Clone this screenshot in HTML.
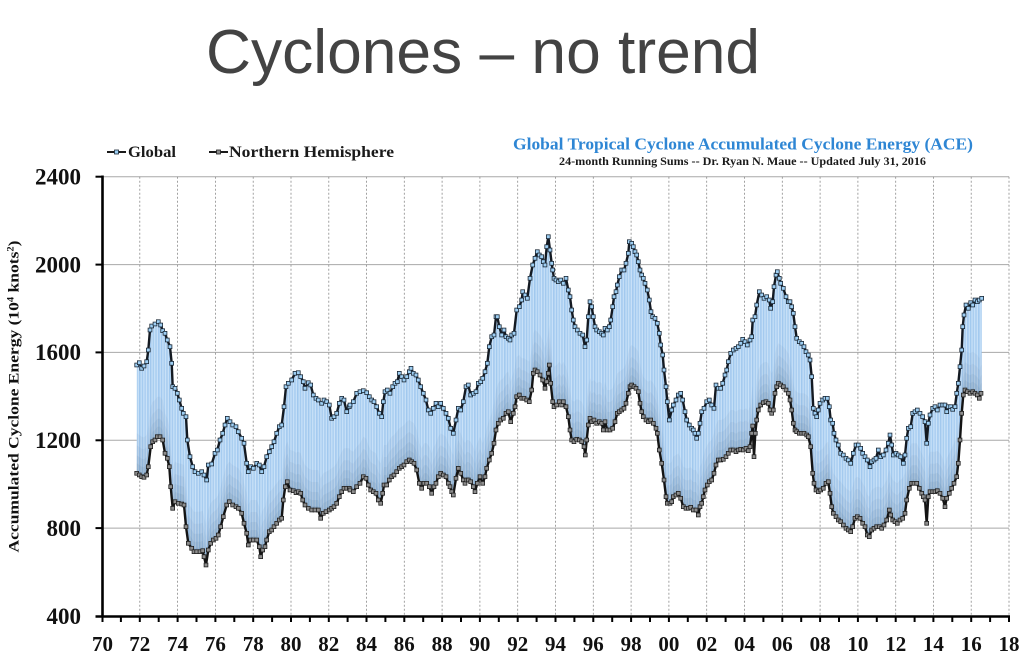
<!DOCTYPE html>
<html>
<head>
<meta charset="utf-8">
<style>
  html,body{margin:0;padding:0;background:#ffffff;}
  body{width:1024px;height:669px;overflow:hidden;}
  svg{display:block;}
</style>
</head>
<body>
<svg width="1024" height="669" viewBox="0 0 1024 669" xmlns="http://www.w3.org/2000/svg" xmlns:xlink="http://www.w3.org/1999/xlink">
  <defs>
    <pattern id="stripes" patternUnits="userSpaceOnUse" x="0" y="0" width="1.58" height="20">
      <rect x="0" y="0" width="0.6" height="20" fill="#5d9fe0" opacity="0.6"/>
    </pattern>
    <marker id="mg" markerUnits="userSpaceOnUse" markerWidth="6" markerHeight="6" refX="3" refY="3">
      <rect x="1.1" y="1.1" width="3.8" height="3.8" fill="#9fd0f5" stroke="#1b2836" stroke-width="0.8"/>
    </marker>
    <marker id="mn" markerUnits="userSpaceOnUse" markerWidth="6" markerHeight="6" refX="3" refY="3">
      <rect x="1.1" y="1.1" width="3.8" height="3.8" fill="#8e8e8e" stroke="#1f1f1f" stroke-width="0.8"/>
    </marker>
    <polyline id="gl" points="136.7,365 139.3,362.7 141.7,368.3 144,366 146.7,361.7 148.3,350 150,330 151.7,326 155,324 158.3,321.7 160.7,325 162.7,330.7 165,333.3 167.3,340 170,346.7 171.7,363.3 172.7,386.7 175,388.3 177.3,393.3 179.3,400 181.7,408.3 183.3,413.3 186,416.7 187.3,440 190,456.7 192.7,466.7 195,471.7 198.3,473.3 201.7,471.7 204,475 206.7,480 208.3,465 211.7,464 215,453.3 217.3,450 220,440 222.7,433.3 225,425 227.3,418.3 230,421.7 232.7,425 236,426.7 238.3,431.7 241.7,438.3 244,443.3 246.7,463.3 248.3,471.7 250.7,466.7 253.3,468.3 256.7,463.3 259.3,465 261.7,471.7 264,466.7 266.7,456.7 269.3,451.7 271.7,446.7 274,441.7 276.7,433.3 279.3,426.7 281.7,425 284,406.7 286,386.7 288.3,383.3 291.7,380 295,373.3 298.3,372.7 300.7,376.7 303.3,381.7 305,388.3 308.3,382.7 310.7,385 313.3,395 316,398.3 318.3,400 321.7,403.3 324,400 326.7,401.7 329.3,405 331.7,418.3 334,416.7 336.7,413.3 339.3,403.3 341.7,398.3 344,400 346.7,411.7 349.3,406.7 350,405 353.3,401.7 356.7,393.3 360,391.7 363.3,390.7 366.7,392.7 369.3,396.7 371.7,400 374,401.7 376.7,406.7 379.3,413.3 381.7,416.7 383.3,401.7 385,391.7 387.3,390 390,393.3 392.7,386.7 395,383.3 397.3,381.7 399.3,373.3 401.7,376.7 404,380 406.7,376.7 409.3,371.7 411,368.3 413.3,373.3 416,375 418.3,380 420.7,386.7 423.3,393.3 426,400 428.3,410 430.7,413.3 433.3,408.3 436,403.3 438.3,406.7 440.7,403.3 443.3,408.3 446,413.3 448.3,418.3 450.7,428.3 453.3,433.3 456,420 458.3,408.3 460.7,410 463.3,401.7 466,386.7 468.3,385 470.7,395 473.3,393.3 476,391.7 478.3,383.3 480.7,381.7 482.7,378.3 485,371.7 487.3,363.3 489.3,346.7 491.7,336.7 494,335 496,316.7 497.3,316.7 499.3,326.7 501.7,335 504,330 506,336.7 508.3,338.3 510,340 511.7,335 514,333.3 516.7,310 519.3,306.7 521.7,300 522.7,291.7 525,295 527.3,298.3 530,278.3 532.7,265 535,258.3 537.3,251.7 539.3,255 541.7,256.7 543.3,261.7 545,265 546.7,246.7 548.3,236.7 550,250 551.7,263.3 552.7,270 554,278.3 556,280 558.3,281.7 560.7,280 563.3,283.3 566,278.3 568.3,290 570,296.7 571.7,310 573.3,320 575,326.7 577.3,330 580,333.3 582.7,335 585,346.7 586.7,340 588.3,316.7 590,301.7 591.7,306.7 593.3,316.7 595,326.7 596.7,330 599.3,331.7 601.7,333.3 603.3,335 605,328.3 607.3,330 609.3,326.7 610.7,320 612.7,306.7 614,296.7 616,291.7 617.3,285 619.3,276.7 621.7,270 624,270 626,263.3 628.3,253.3 629.3,241.7 631.7,243.3 633.3,246.7 635,251.7 636.7,255 638.3,261.7 640,270 641.7,275 643.3,278.3 645,283.3 647.3,290 649.3,300 651,311.7 652.7,316.7 655,318.3 657.3,323.3 659.3,333.3 660.7,345 662.7,355 664,370 666,386.7 667.3,401.7 669.3,420 671.7,410 673.3,405 676,400 678.3,395 680.7,393.3 682.7,400 685,411.7 686.7,420 689.3,425 691.7,428.3 693.3,430 695,433.3 696.7,438.3 698.3,433.3 700,423.3 701.7,411.7 704,408.3 706.7,401.7 709.3,400 711.7,405 714,408.3 716,385 718.3,388.3 720.7,388.3 722.7,383.3 725,375 726.7,370 728.3,361.7 730.7,353.3 733.3,350 736,348.3 738.3,346.7 740.7,343.3 742.7,339.3 745,341.7 747.3,345 750,340 751.7,336.7 752.7,320 755,316.7 756.7,305 759.3,291.7 761.7,295 764,298.3 766.7,296.7 769.3,300 770.7,308.3 772.7,301.7 774,286.7 776,275 777.3,271.7 779.3,278.3 780.7,283.3 783.3,288.3 786,296.7 788.3,301.7 790,301.7 791.7,306.7 793.3,313.3 795,326.7 796.7,338.3 799.3,341.7 801.7,343.3 804,346.7 806,351.7 808.3,355 810,360 811.7,376.7 813.3,408.3 815,413.3 816.7,416.7 818.3,410 820,403.3 822.7,400 825,398.3 827.3,398.3 829.3,406.7 830.7,420 832.7,423.3 834,433.3 836,440 838.3,445 840.7,453.3 843.3,455 846,458.3 848.3,460 850.7,463.3 853.3,453.3 856,445 858.3,445 860.7,448.3 862.7,453.3 865,456.7 867.3,460 870,466.7 871.7,461.7 874,460 876,458.3 878.3,450 880.7,456.7 883.3,455 886,450 888.3,443.3 890,435 891.7,445 893.3,455 896,453.3 898.3,455 900.7,456.7 903.3,463.3 905,455 906.7,438.3 908.3,428.3 910.7,426.7 912.7,413.3 915,411.7 917.3,410 920,413.3 922.7,416.7 925,421.7 926.7,443.3 928.3,423.3 930,415 932.7,408.3 935,406.7 937.3,410 940,405 942.7,405 945,405 946.7,411.7 948.3,406.7 950.7,406.7 952.7,409.3 955,406.7 956.7,393.3 958.3,383.3 960,366.7 961.7,350 962.7,326.7 964,315 966,305 968.3,308.3 970.7,302.7 972.7,305 975,300 977.3,301.7 979.3,300 981.7,298.3"/>
    <polyline id="nh" points="136.7,473.3 139.3,475 141.7,476.7 144,477.3 146.7,475 148.3,466.7 150.7,446.7 152.7,441.7 155,440 157.3,436.7 160,436.7 162.7,440 165,453.3 167.3,458.3 169.3,466.7 170.7,486.7 172.7,508.3 175,501.7 178.3,503.3 181.7,504 184,505 186,526.7 188.3,543.3 191.7,548.3 194,551.7 196.7,551.7 200,551.7 202.7,550.7 204,556.7 206,565 208.3,550 210.7,543.3 213.3,540 216,538.3 218.3,535 220.7,526.7 223.3,516.7 226.7,505 229.3,501.7 232.7,505 236,506.7 238.3,508.3 241.7,513.3 244,523.3 246.7,533.3 248.3,545 250.7,540 253.3,540 256.7,540 259.3,546.7 260.7,556.7 262.7,550 265,546.7 266.7,540 269.3,531.7 271.7,530 274,526.7 276.7,523.3 279.3,520 281.7,518.3 283.3,500 285.3,486.7 287.3,481.7 290,490 293.3,490.7 296,492.7 298.3,491.7 300.7,493.3 302.7,500 305,505 308.3,508.3 311.7,510 315,510 318.3,510 320.7,518.3 323.3,513.3 326,511.7 329.3,510 331.7,508.3 334,506.7 336.7,503.3 339.3,496.7 341.7,491.7 344,488.3 346.7,488.3 349.3,488.3 350,490 353.3,491.7 356.7,486.7 360,483.3 363.3,476.7 366,478.3 368.3,485 370.7,490 373.3,491.7 376,493.3 378.3,500 380.7,503.3 382.7,493.3 384,485 386.7,485 389.3,480 391.7,476.7 394,475 396.7,471.7 399.3,468.3 401.7,466.7 404,465 406.7,461.7 409.3,460 411.7,461.7 414,463.3 416.7,470 419.3,483.3 421.7,488.3 424,483.3 426.7,483.3 429.3,486.7 431.7,493.3 434,486.7 436,483.3 438.3,476.7 440.7,473.3 443.3,475 446,476.7 448.3,483.3 450,486.7 451.7,491.7 453.3,495 456,478.3 458.3,468.3 460.7,473.3 463.3,480 465,483.3 466.7,480 468.3,480 470.7,481.7 473.3,486.7 475,491.7 477.3,483.3 480,476.7 482.7,483.3 485,476.7 486.7,468.3 489.3,460 491.7,453.3 494,443.3 496,430 498.3,423.3 500.7,420 503.3,418.3 506,413.3 508.3,411.7 510.7,421.7 513.3,413.3 515,406.7 516.7,396.7 519.3,395 521.7,398.3 524,398.3 526.7,400 529.3,401.7 531.7,390 533.3,373.3 535,370 537.3,371.7 540,375 542.7,380 545,388.3 546.7,381.7 548.3,373.3 549.3,365 550.7,383.3 552.7,401.7 554,406.7 556.7,405 559.3,401.7 561.7,405 563.3,401.7 566,406.7 568.3,416.7 570,430 571.7,440 574,441.7 576.7,439.3 579.3,440 581.7,441.7 584,446.7 585.3,455 586.7,440 588.3,425 590,418.3 591.7,421.7 594,420 596.7,423.3 599.3,421.7 601.7,423.3 603.3,430 605,421.7 607.3,430 610,430 612.7,428.3 615,421.7 617.3,413.3 619.3,411.7 621.7,410 624,408.3 626,403.3 628.3,393.3 630,386.7 631.7,385 634,386.7 636,388.3 638.3,391.7 640,403.3 641.7,411.7 643.3,416.7 646,420 648.3,421.7 650.7,420 653.3,423.3 656,428.3 657.3,433.3 659.3,450 661.7,463.3 664,480 666,496.7 667.3,503.3 670,503.3 671.7,501.7 673.3,496.7 676,495 678.3,493.3 680.7,498.3 683.3,506.7 686,508.3 688.3,508.3 690.7,507.3 693.3,510 696,510 698.3,515 700,506.7 701.7,503.3 703.3,496.7 705,490 707.3,485 709.3,481.7 711.7,480 714,473.3 716,465 718.3,460 720.7,460 723.3,459.3 726,456.7 728.3,453.3 730.7,450 733.3,450 736,451.7 738.3,450 740.7,449.3 743.3,450 746,448.3 748.3,450.7 750,446.7 751.7,433.3 752.7,426 754,456.7 755.3,433.3 756.7,420 758.3,410 760.7,405 763.3,402.7 766,401.7 768.3,403.3 770,410 771.7,413.3 773.3,410 775,393.3 776.7,386.7 778.3,383.3 780.7,385 783.3,386.7 786,390 788.3,393.3 790,400 791.7,410 793.3,423.3 795,430 796.7,431.7 799.3,433.3 801.7,433.3 804,433.3 806.7,435 808.3,436.7 810.7,446.7 812.7,473.3 814,483.3 816,490 818.3,491.7 820.7,490 823.3,488.3 826,483.3 828.3,481.7 830,493.3 831.7,506.7 833.3,513.3 836,516.7 838.3,520 840.7,521.7 843.3,525 846,528.3 848.3,530 850.7,531.7 852.7,526.7 855,518.3 857.3,516.7 860,518.3 862.7,523.3 865,526.7 867.3,535 869.3,536.7 871.7,530 874,528.3 876.7,526.7 879.3,526.7 881.7,528.3 884,525 886.7,520 889.3,510 890.7,515 892.7,520 895,521.7 897.3,523.3 900,520 902.7,518.3 905,513.3 906.7,500 909.3,488.3 911.7,483.3 914,483.3 916.7,483.3 919.3,488.3 921.7,493.3 923.3,496.7 925,500 926.7,523.3 928.3,496.7 930,491.7 932.7,491.7 935,491.7 937.3,490.7 940,493.3 942.7,498.3 945,506.7 946.7,498.3 949.3,493.3 951.7,488.3 954,483.3 956.7,476.7 958.3,463.3 960,440 961.7,413.3 963.3,395 965,390 967.3,391.7 970,393.3 972.7,391.7 975,393.3 977.3,395 979.3,398.3 981,393.3"/>
    <polygon id="glA" points="136.7,365 139.3,362.7 141.7,368.3 144,366 146.7,361.7 148.3,350 150,330 151.7,326 155,324 158.3,321.7 160.7,325 162.7,330.7 165,333.3 167.3,340 170,346.7 171.7,363.3 172.7,386.7 175,388.3 177.3,393.3 179.3,400 181.7,408.3 183.3,413.3 186,416.7 187.3,440 190,456.7 192.7,466.7 195,471.7 198.3,473.3 201.7,471.7 204,475 206.7,480 208.3,465 211.7,464 215,453.3 217.3,450 220,440 222.7,433.3 225,425 227.3,418.3 230,421.7 232.7,425 236,426.7 238.3,431.7 241.7,438.3 244,443.3 246.7,463.3 248.3,471.7 250.7,466.7 253.3,468.3 256.7,463.3 259.3,465 261.7,471.7 264,466.7 266.7,456.7 269.3,451.7 271.7,446.7 274,441.7 276.7,433.3 279.3,426.7 281.7,425 284,406.7 286,386.7 288.3,383.3 291.7,380 295,373.3 298.3,372.7 300.7,376.7 303.3,381.7 305,388.3 308.3,382.7 310.7,385 313.3,395 316,398.3 318.3,400 321.7,403.3 324,400 326.7,401.7 329.3,405 331.7,418.3 334,416.7 336.7,413.3 339.3,403.3 341.7,398.3 344,400 346.7,411.7 349.3,406.7 350,405 353.3,401.7 356.7,393.3 360,391.7 363.3,390.7 366.7,392.7 369.3,396.7 371.7,400 374,401.7 376.7,406.7 379.3,413.3 381.7,416.7 383.3,401.7 385,391.7 387.3,390 390,393.3 392.7,386.7 395,383.3 397.3,381.7 399.3,373.3 401.7,376.7 404,380 406.7,376.7 409.3,371.7 411,368.3 413.3,373.3 416,375 418.3,380 420.7,386.7 423.3,393.3 426,400 428.3,410 430.7,413.3 433.3,408.3 436,403.3 438.3,406.7 440.7,403.3 443.3,408.3 446,413.3 448.3,418.3 450.7,428.3 453.3,433.3 456,420 458.3,408.3 460.7,410 463.3,401.7 466,386.7 468.3,385 470.7,395 473.3,393.3 476,391.7 478.3,383.3 480.7,381.7 482.7,378.3 485,371.7 487.3,363.3 489.3,346.7 491.7,336.7 494,335 496,316.7 497.3,316.7 499.3,326.7 501.7,335 504,330 506,336.7 508.3,338.3 510,340 511.7,335 514,333.3 516.7,310 519.3,306.7 521.7,300 522.7,291.7 525,295 527.3,298.3 530,278.3 532.7,265 535,258.3 537.3,251.7 539.3,255 541.7,256.7 543.3,261.7 545,265 546.7,246.7 548.3,236.7 550,250 551.7,263.3 552.7,270 554,278.3 556,280 558.3,281.7 560.7,280 563.3,283.3 566,278.3 568.3,290 570,296.7 571.7,310 573.3,320 575,326.7 577.3,330 580,333.3 582.7,335 585,346.7 586.7,340 588.3,316.7 590,301.7 591.7,306.7 593.3,316.7 595,326.7 596.7,330 599.3,331.7 601.7,333.3 603.3,335 605,328.3 607.3,330 609.3,326.7 610.7,320 612.7,306.7 614,296.7 616,291.7 617.3,285 619.3,276.7 621.7,270 624,270 626,263.3 628.3,253.3 629.3,241.7 631.7,243.3 633.3,246.7 635,251.7 636.7,255 638.3,261.7 640,270 641.7,275 643.3,278.3 645,283.3 647.3,290 649.3,300 651,311.7 652.7,316.7 655,318.3 657.3,323.3 659.3,333.3 660.7,345 662.7,355 664,370 666,386.7 667.3,401.7 669.3,420 671.7,410 673.3,405 676,400 678.3,395 680.7,393.3 682.7,400 685,411.7 686.7,420 689.3,425 691.7,428.3 693.3,430 695,433.3 696.7,438.3 698.3,433.3 700,423.3 701.7,411.7 704,408.3 706.7,401.7 709.3,400 711.7,405 714,408.3 716,385 718.3,388.3 720.7,388.3 722.7,383.3 725,375 726.7,370 728.3,361.7 730.7,353.3 733.3,350 736,348.3 738.3,346.7 740.7,343.3 742.7,339.3 745,341.7 747.3,345 750,340 751.7,336.7 752.7,320 755,316.7 756.7,305 759.3,291.7 761.7,295 764,298.3 766.7,296.7 769.3,300 770.7,308.3 772.7,301.7 774,286.7 776,275 777.3,271.7 779.3,278.3 780.7,283.3 783.3,288.3 786,296.7 788.3,301.7 790,301.7 791.7,306.7 793.3,313.3 795,326.7 796.7,338.3 799.3,341.7 801.7,343.3 804,346.7 806,351.7 808.3,355 810,360 811.7,376.7 813.3,408.3 815,413.3 816.7,416.7 818.3,410 820,403.3 822.7,400 825,398.3 827.3,398.3 829.3,406.7 830.7,420 832.7,423.3 834,433.3 836,440 838.3,445 840.7,453.3 843.3,455 846,458.3 848.3,460 850.7,463.3 853.3,453.3 856,445 858.3,445 860.7,448.3 862.7,453.3 865,456.7 867.3,460 870,466.7 871.7,461.7 874,460 876,458.3 878.3,450 880.7,456.7 883.3,455 886,450 888.3,443.3 890,435 891.7,445 893.3,455 896,453.3 898.3,455 900.7,456.7 903.3,463.3 905,455 906.7,438.3 908.3,428.3 910.7,426.7 912.7,413.3 915,411.7 917.3,410 920,413.3 922.7,416.7 925,421.7 926.7,443.3 928.3,423.3 930,415 932.7,408.3 935,406.7 937.3,410 940,405 942.7,405 945,405 946.7,411.7 948.3,406.7 950.7,406.7 952.7,409.3 955,406.7 956.7,393.3 958.3,383.3 960,366.7 961.7,350 962.7,326.7 964,315 966,305 968.3,308.3 970.7,302.7 972.7,305 975,300 977.3,301.7 979.3,300 981.7,298.3 981.7,640 136.7,640"/>
    <polygon id="nhA" points="130,473.3 136.7,473.3 139.3,475 141.7,476.7 144,477.3 146.7,475 148.3,466.7 150.7,446.7 152.7,441.7 155,440 157.3,436.7 160,436.7 162.7,440 165,453.3 167.3,458.3 169.3,466.7 170.7,486.7 172.7,508.3 175,501.7 178.3,503.3 181.7,504 184,505 186,526.7 188.3,543.3 191.7,548.3 194,551.7 196.7,551.7 200,551.7 202.7,550.7 204,556.7 206,565 208.3,550 210.7,543.3 213.3,540 216,538.3 218.3,535 220.7,526.7 223.3,516.7 226.7,505 229.3,501.7 232.7,505 236,506.7 238.3,508.3 241.7,513.3 244,523.3 246.7,533.3 248.3,545 250.7,540 253.3,540 256.7,540 259.3,546.7 260.7,556.7 262.7,550 265,546.7 266.7,540 269.3,531.7 271.7,530 274,526.7 276.7,523.3 279.3,520 281.7,518.3 283.3,500 285.3,486.7 287.3,481.7 290,490 293.3,490.7 296,492.7 298.3,491.7 300.7,493.3 302.7,500 305,505 308.3,508.3 311.7,510 315,510 318.3,510 320.7,518.3 323.3,513.3 326,511.7 329.3,510 331.7,508.3 334,506.7 336.7,503.3 339.3,496.7 341.7,491.7 344,488.3 346.7,488.3 349.3,488.3 350,490 353.3,491.7 356.7,486.7 360,483.3 363.3,476.7 366,478.3 368.3,485 370.7,490 373.3,491.7 376,493.3 378.3,500 380.7,503.3 382.7,493.3 384,485 386.7,485 389.3,480 391.7,476.7 394,475 396.7,471.7 399.3,468.3 401.7,466.7 404,465 406.7,461.7 409.3,460 411.7,461.7 414,463.3 416.7,470 419.3,483.3 421.7,488.3 424,483.3 426.7,483.3 429.3,486.7 431.7,493.3 434,486.7 436,483.3 438.3,476.7 440.7,473.3 443.3,475 446,476.7 448.3,483.3 450,486.7 451.7,491.7 453.3,495 456,478.3 458.3,468.3 460.7,473.3 463.3,480 465,483.3 466.7,480 468.3,480 470.7,481.7 473.3,486.7 475,491.7 477.3,483.3 480,476.7 482.7,483.3 485,476.7 486.7,468.3 489.3,460 491.7,453.3 494,443.3 496,430 498.3,423.3 500.7,420 503.3,418.3 506,413.3 508.3,411.7 510.7,421.7 513.3,413.3 515,406.7 516.7,396.7 519.3,395 521.7,398.3 524,398.3 526.7,400 529.3,401.7 531.7,390 533.3,373.3 535,370 537.3,371.7 540,375 542.7,380 545,388.3 546.7,381.7 548.3,373.3 549.3,365 550.7,383.3 552.7,401.7 554,406.7 556.7,405 559.3,401.7 561.7,405 563.3,401.7 566,406.7 568.3,416.7 570,430 571.7,440 574,441.7 576.7,439.3 579.3,440 581.7,441.7 584,446.7 585.3,455 586.7,440 588.3,425 590,418.3 591.7,421.7 594,420 596.7,423.3 599.3,421.7 601.7,423.3 603.3,430 605,421.7 607.3,430 610,430 612.7,428.3 615,421.7 617.3,413.3 619.3,411.7 621.7,410 624,408.3 626,403.3 628.3,393.3 630,386.7 631.7,385 634,386.7 636,388.3 638.3,391.7 640,403.3 641.7,411.7 643.3,416.7 646,420 648.3,421.7 650.7,420 653.3,423.3 656,428.3 657.3,433.3 659.3,450 661.7,463.3 664,480 666,496.7 667.3,503.3 670,503.3 671.7,501.7 673.3,496.7 676,495 678.3,493.3 680.7,498.3 683.3,506.7 686,508.3 688.3,508.3 690.7,507.3 693.3,510 696,510 698.3,515 700,506.7 701.7,503.3 703.3,496.7 705,490 707.3,485 709.3,481.7 711.7,480 714,473.3 716,465 718.3,460 720.7,460 723.3,459.3 726,456.7 728.3,453.3 730.7,450 733.3,450 736,451.7 738.3,450 740.7,449.3 743.3,450 746,448.3 748.3,450.7 750,446.7 751.7,433.3 752.7,426 754,456.7 755.3,433.3 756.7,420 758.3,410 760.7,405 763.3,402.7 766,401.7 768.3,403.3 770,410 771.7,413.3 773.3,410 775,393.3 776.7,386.7 778.3,383.3 780.7,385 783.3,386.7 786,390 788.3,393.3 790,400 791.7,410 793.3,423.3 795,430 796.7,431.7 799.3,433.3 801.7,433.3 804,433.3 806.7,435 808.3,436.7 810.7,446.7 812.7,473.3 814,483.3 816,490 818.3,491.7 820.7,490 823.3,488.3 826,483.3 828.3,481.7 830,493.3 831.7,506.7 833.3,513.3 836,516.7 838.3,520 840.7,521.7 843.3,525 846,528.3 848.3,530 850.7,531.7 852.7,526.7 855,518.3 857.3,516.7 860,518.3 862.7,523.3 865,526.7 867.3,535 869.3,536.7 871.7,530 874,528.3 876.7,526.7 879.3,526.7 881.7,528.3 884,525 886.7,520 889.3,510 890.7,515 892.7,520 895,521.7 897.3,523.3 900,520 902.7,518.3 905,513.3 906.7,500 909.3,488.3 911.7,483.3 914,483.3 916.7,483.3 919.3,488.3 921.7,493.3 923.3,496.7 925,500 926.7,523.3 928.3,496.7 930,491.7 932.7,491.7 935,491.7 937.3,490.7 940,493.3 942.7,498.3 945,506.7 946.7,498.3 949.3,493.3 951.7,488.3 954,483.3 956.7,476.7 958.3,463.3 960,440 961.7,413.3 963.3,395 965,390 967.3,391.7 970,393.3 972.7,391.7 975,393.3 977.3,395 979.3,398.3 981,393.3 990,393.3 990,640 130,640"/>
    <mask id="band" maskUnits="userSpaceOnUse" x="0" y="0" width="1024" height="669">
      <rect x="0" y="0" width="1024" height="669" fill="black"/>
      <use href="#glA" xlink:href="#glA" fill="white"/>
      <use href="#nhA" xlink:href="#nhA" fill="black"/>
    </mask>
  </defs>

  <!-- Main slide title -->
  <text x="206" y="73" font-family="'Liberation Sans', Arial, sans-serif" font-size="62" fill="#434343" textLength="554" lengthAdjust="spacingAndGlyphs">Cyclones – no trend</text>

  <!-- Chart title -->
  <text x="513" y="149.5" font-family="'Liberation Serif', serif" font-weight="bold" font-size="17" fill="#2e86d4" textLength="460" lengthAdjust="spacingAndGlyphs">Global Tropical Cyclone Accumulated Cyclone Energy (ACE)</text>
  <text x="559" y="165" font-family="'Liberation Serif', serif" font-weight="bold" font-size="12" fill="#1a1a1a" textLength="367" lengthAdjust="spacingAndGlyphs">24-month Running Sums -- Dr. Ryan N. Maue -- Updated July 31, 2016</text>

  <!-- Legend -->
  <line x1="107" y1="152" x2="126" y2="152" stroke="#1a1a1a" stroke-width="2"/>
  <rect x="114.5" y="150" width="4" height="4" fill="#9fd0f5" stroke="#1b2836" stroke-width="0.8"/>
  <text x="128" y="157" font-family="'Liberation Serif', serif" font-weight="bold" font-size="16" fill="#1a1a1a" textLength="48" lengthAdjust="spacingAndGlyphs">Global</text>
  <line x1="209" y1="152" x2="228" y2="152" stroke="#1a1a1a" stroke-width="2"/>
  <rect x="216.5" y="150" width="4" height="4" fill="#8e8e8e" stroke="#1f1f1f" stroke-width="0.8"/>
  <text x="229" y="157" font-family="'Liberation Serif', serif" font-weight="bold" font-size="16" fill="#1a1a1a" textLength="165" lengthAdjust="spacingAndGlyphs">Northern Hemisphere</text>

  <!-- Horizontal gridlines -->
  <g stroke="#a8a8a8" stroke-width="1">
    <line x1="102" y1="176.7" x2="1009" y2="176.7"/>
    <line x1="102" y1="264.6" x2="1009" y2="264.6"/>
    <line x1="102" y1="352.4" x2="1009" y2="352.4"/>
    <line x1="102" y1="440.3" x2="1009" y2="440.3"/>
    <line x1="102" y1="528.1" x2="1009" y2="528.1"/>
  </g>
  <!-- Vertical dashed gridlines (every 2 years) -->
  <g stroke="#8a8a8a" stroke-width="0.8" stroke-dasharray="2,2">
    <line x1="139.8" y1="176.7" x2="139.8" y2="616"/>
    <line x1="177.6" y1="176.7" x2="177.6" y2="616"/>
    <line x1="215.4" y1="176.7" x2="215.4" y2="616"/>
    <line x1="253.2" y1="176.7" x2="253.2" y2="616"/>
    <line x1="291" y1="176.7" x2="291" y2="616"/>
    <line x1="328.8" y1="176.7" x2="328.8" y2="616"/>
    <line x1="366.5" y1="176.7" x2="366.5" y2="616"/>
    <line x1="404.3" y1="176.7" x2="404.3" y2="616"/>
    <line x1="442.1" y1="176.7" x2="442.1" y2="616"/>
    <line x1="479.9" y1="176.7" x2="479.9" y2="616"/>
    <line x1="517.7" y1="176.7" x2="517.7" y2="616"/>
    <line x1="555.5" y1="176.7" x2="555.5" y2="616"/>
    <line x1="593.3" y1="176.7" x2="593.3" y2="616"/>
    <line x1="631.1" y1="176.7" x2="631.1" y2="616"/>
    <line x1="668.9" y1="176.7" x2="668.9" y2="616"/>
    <line x1="706.7" y1="176.7" x2="706.7" y2="616"/>
    <line x1="744.5" y1="176.7" x2="744.5" y2="616"/>
    <line x1="782.3" y1="176.7" x2="782.3" y2="616"/>
    <line x1="820.1" y1="176.7" x2="820.1" y2="616"/>
    <line x1="857.9" y1="176.7" x2="857.9" y2="616"/>
    <line x1="895.7" y1="176.7" x2="895.7" y2="616"/>
    <line x1="933.4" y1="176.7" x2="933.4" y2="616"/>
    <line x1="971.2" y1="176.7" x2="971.2" y2="616"/>
    <line x1="1009" y1="176.7" x2="1009" y2="616"/>
  </g>

  <!-- Band between series -->
  <g mask="url(#band)">
    <rect x="120" y="200" width="880" height="420" fill="#cfe5f9"/>
    <rect x="120" y="200" width="880" height="420" fill="url(#stripes)"/>
    <use href="#nhA" xlink:href="#nhA" transform="translate(0,-40)" fill="#3d5673" fill-opacity="0.05"/>
    <use href="#nhA" xlink:href="#nhA" transform="translate(0,-28)" fill="#3d5673" fill-opacity="0.06"/>
    <use href="#nhA" xlink:href="#nhA" transform="translate(0,-18)" fill="#3d5673" fill-opacity="0.07"/>
    <use href="#nhA" xlink:href="#nhA" transform="translate(0,-10)" fill="#3d5673" fill-opacity="0.08"/>
    <use href="#nhA" xlink:href="#nhA" transform="translate(0,-4)" fill="#3d5673" fill-opacity="0.08"/>
  </g>

  <!-- Global series line -->
  <use href="#gl" xlink:href="#gl" fill="none" stroke="#141a22" stroke-width="2.4" stroke-linejoin="round" marker-start="url(#mg)" marker-mid="url(#mg)" marker-end="url(#mg)"/>

  <!-- Northern Hemisphere series line -->
  <use href="#nh" xlink:href="#nh" fill="none" stroke="#141414" stroke-width="2.4" stroke-linejoin="round" marker-start="url(#mn)" marker-mid="url(#mn)" marker-end="url(#mn)"/>

  <!-- Axes -->
  <line x1="102.5" y1="175.5" x2="102.5" y2="617" stroke="#000" stroke-width="2.6"/>
  <line x1="95.5" y1="616.5" x2="1010" y2="616.5" stroke="#000" stroke-width="2.6"/>
  <g stroke="#000" stroke-width="2">
    <line x1="95.5" y1="176.7" x2="102" y2="176.7"/>
    <line x1="95.5" y1="264.6" x2="102" y2="264.6"/>
    <line x1="95.5" y1="352.4" x2="102" y2="352.4"/>
    <line x1="95.5" y1="440.3" x2="102" y2="440.3"/>
    <line x1="95.5" y1="528.1" x2="102" y2="528.1"/>
  </g>
  <g stroke="#000" stroke-width="2">
    <line x1="102.5" y1="616" x2="102.5" y2="622"/><line x1="120.9" y1="616" x2="120.9" y2="622"/>
    <line x1="139.8" y1="616" x2="139.8" y2="622"/><line x1="158.7" y1="616" x2="158.7" y2="622"/>
    <line x1="177.6" y1="616" x2="177.6" y2="622"/><line x1="196.5" y1="616" x2="196.5" y2="622"/>
    <line x1="215.4" y1="616" x2="215.4" y2="622"/><line x1="234.3" y1="616" x2="234.3" y2="622"/>
    <line x1="253.2" y1="616" x2="253.2" y2="622"/><line x1="272.1" y1="616" x2="272.1" y2="622"/>
    <line x1="291" y1="616" x2="291" y2="622"/><line x1="309.9" y1="616" x2="309.9" y2="622"/>
    <line x1="328.8" y1="616" x2="328.8" y2="622"/><line x1="347.6" y1="616" x2="347.6" y2="622"/>
    <line x1="366.5" y1="616" x2="366.5" y2="622"/><line x1="385.4" y1="616" x2="385.4" y2="622"/>
    <line x1="404.3" y1="616" x2="404.3" y2="622"/><line x1="423.2" y1="616" x2="423.2" y2="622"/>
    <line x1="442.1" y1="616" x2="442.1" y2="622"/><line x1="461" y1="616" x2="461" y2="622"/>
    <line x1="479.9" y1="616" x2="479.9" y2="622"/><line x1="498.8" y1="616" x2="498.8" y2="622"/>
    <line x1="517.7" y1="616" x2="517.7" y2="622"/><line x1="536.6" y1="616" x2="536.6" y2="622"/>
    <line x1="555.5" y1="616" x2="555.5" y2="622"/><line x1="574.4" y1="616" x2="574.4" y2="622"/>
    <line x1="593.3" y1="616" x2="593.3" y2="622"/><line x1="612.2" y1="616" x2="612.2" y2="622"/>
    <line x1="631.1" y1="616" x2="631.1" y2="622"/><line x1="650" y1="616" x2="650" y2="622"/>
    <line x1="668.9" y1="616" x2="668.9" y2="622"/><line x1="687.8" y1="616" x2="687.8" y2="622"/>
    <line x1="706.7" y1="616" x2="706.7" y2="622"/><line x1="725.6" y1="616" x2="725.6" y2="622"/>
    <line x1="744.5" y1="616" x2="744.5" y2="622"/><line x1="763.4" y1="616" x2="763.4" y2="622"/>
    <line x1="782.3" y1="616" x2="782.3" y2="622"/><line x1="801.2" y1="616" x2="801.2" y2="622"/>
    <line x1="820.1" y1="616" x2="820.1" y2="622"/><line x1="839" y1="616" x2="839" y2="622"/>
    <line x1="857.9" y1="616" x2="857.9" y2="622"/><line x1="876.8" y1="616" x2="876.8" y2="622"/>
    <line x1="895.7" y1="616" x2="895.7" y2="622"/><line x1="914.6" y1="616" x2="914.6" y2="622"/>
    <line x1="933.4" y1="616" x2="933.4" y2="622"/><line x1="952.3" y1="616" x2="952.3" y2="622"/>
    <line x1="971.2" y1="616" x2="971.2" y2="622"/><line x1="990.1" y1="616" x2="990.1" y2="622"/>
    <line x1="1009" y1="616" x2="1009" y2="622"/>
  </g>

  <!-- Y tick labels -->
  <g font-family="'Liberation Serif', serif" font-weight="bold" font-size="23" fill="#111" text-anchor="end">
    <text x="81" y="184.5">2400</text>
    <text x="81" y="272.4">2000</text>
    <text x="81" y="360.2">1600</text>
    <text x="81" y="448.1">1200</text>
    <text x="81" y="535.9">800</text>
    <text x="81" y="623.8">400</text>
  </g>

  <!-- X tick labels -->
  <g font-family="'Liberation Serif', serif" font-weight="bold" font-size="21" fill="#111" text-anchor="middle">
    <text x="102.5" y="651">70</text>
    <text x="139.8" y="651">72</text>
    <text x="177.6" y="651">74</text>
    <text x="215.4" y="651">76</text>
    <text x="253.2" y="651">78</text>
    <text x="291" y="651">80</text>
    <text x="328.8" y="651">82</text>
    <text x="366.5" y="651">84</text>
    <text x="404.3" y="651">86</text>
    <text x="442.1" y="651">88</text>
    <text x="479.9" y="651">90</text>
    <text x="517.7" y="651">92</text>
    <text x="555.5" y="651">94</text>
    <text x="593.3" y="651">96</text>
    <text x="631.1" y="651">98</text>
    <text x="668.9" y="651">00</text>
    <text x="706.7" y="651">02</text>
    <text x="744.5" y="651">04</text>
    <text x="782.3" y="651">06</text>
    <text x="820.1" y="651">08</text>
    <text x="857.9" y="651">10</text>
    <text x="895.7" y="651">12</text>
    <text x="933.4" y="651">14</text>
    <text x="971.2" y="651">16</text>
    <text x="1009" y="651">18</text>
  </g>

  <!-- Y axis title -->
  <text transform="translate(18.5,396.5) rotate(-90)" text-anchor="middle" font-family="'Liberation Serif', serif" font-weight="bold" font-size="15" fill="#111" textLength="312" lengthAdjust="spacingAndGlyphs">Accumulated Cyclone Energy (10<tspan font-size="9" dy="-5">4</tspan><tspan dy="5"> knots</tspan><tspan font-size="9" dy="-5">2</tspan><tspan dy="5">)</tspan></text>
</svg>
</body>
</html>
